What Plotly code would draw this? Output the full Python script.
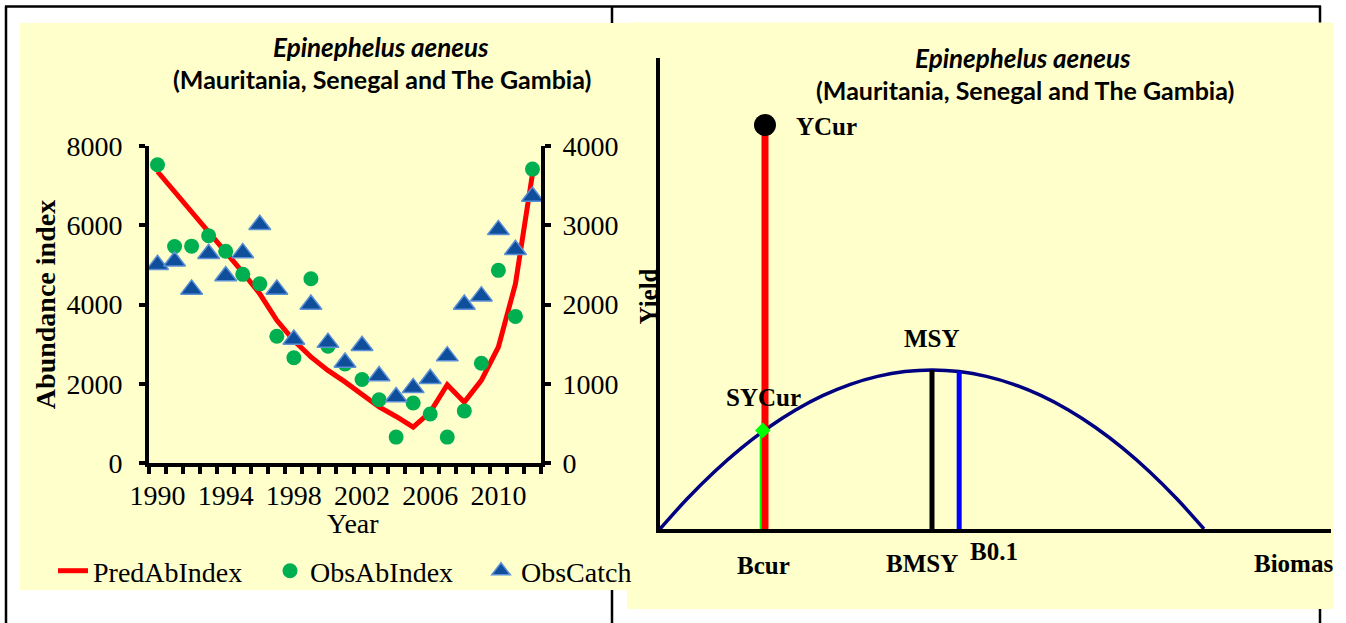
import plotly.graph_objects as go

# ---------------- data: left chart ----------------
years = list(range(1990, 2013))
pred_ab_index = [7350, 6850, 6340, 5860, 5320, 4810, 4270, 3600, 3090, 2680, 2340, 2050,
                 1750, 1420, 1180, 910, 1290, 1980, 1540, 2090, 2930, 4520, 7290]
obs_ab_index = [7520, 5460, 5470, 5730, 5340, 4760, 4520, 3200, 2660, 4650, 2950, 2500,
                2110, 1600, 660, 1520, 1240, 660, 1320, 2520, 4860, 3700, 7410]
obs_catch = [2500, 2545, 2190, 2640, 2360, 2650, 3005, 2190, 1560, 2000, 1520, 1270,
             1480, 1100, 835, 950, 1065, 1350, 2000, 2105, 2940, 2690, 3360]
year_ticks = [1990, 1994, 1998, 2002, 2006, 2010]
ab_ticks = [0, 2000, 4000, 6000, 8000]
catch_ticks = [0, 1000, 2000, 3000, 4000]

# ---------------- data: right chart ----------------
biomass = [0.00, 0.05, 0.10, 0.15, 0.20, 0.25, 0.30, 0.35, 0.40, 0.45, 0.50,
           0.55, 0.60, 0.65, 0.70, 0.75, 0.80, 0.85, 0.90, 0.95, 1.00]
yield_curve = [0.00, 0.19, 0.36, 0.51, 0.64, 0.75, 0.84, 0.91, 0.96, 0.99, 1.00,
               0.99, 0.96, 0.91, 0.84, 0.75, 0.64, 0.51, 0.36, 0.19, 0.00]
b_cur = 0.193
b_cur_sy = 0.185
y_cur = 2.54
sy_cur = 0.62
b_msy = 0.50
msy = 1.00
b_01 = 0.55
y_01 = 0.99

W, H = 1333, 623
def px(x):
    return x / W
def py(y):
    return 1 - y / H

SERIF = "Liberation Serif"
SANS = "Lato"
BG = "#FFFFCC"

# category boundaries for the year axis tick marks
year_bounds = [y - 0.5 for y in years] + [years[-1] + 0.5]

fig = go.Figure()

# left chart traces
fig.add_trace(go.Scatter(x=years, y=pred_ab_index, mode="lines", name="PredAbIndex",
                         line=dict(color="#FF0000", width=5), xaxis="x", yaxis="y",
                         legend="legend"))
fig.add_trace(go.Scatter(x=years, y=obs_ab_index, mode="markers", name="ObsAbIndex",
                         marker=dict(color="#00B050", size=15, symbol="circle"),
                         xaxis="x", yaxis="y", legend="legend2"))
fig.add_trace(go.Scatter(x=years, y=obs_catch, mode="markers", name="ObsCatch",
                         marker=dict(color="#0F4E9A", size=19, symbol="triangle-up",
                                     line=dict(color="#5B8FD6", width=1.5)),
                         xaxis="x", yaxis="y2", legend="legend3"))

# right chart traces
fig.add_trace(go.Scatter(x=biomass, y=yield_curve, mode="lines", line_shape="spline",
                         line=dict(color="#000080", width=3.5), xaxis="x3", yaxis="y3",
                         showlegend=False))
fig.add_trace(go.Scatter(x=[b_cur_sy, b_cur_sy], y=[0, sy_cur], mode="lines",
                         line=dict(color="#00FF00", width=2), xaxis="x3", yaxis="y3",
                         showlegend=False))
fig.add_trace(go.Scatter(x=[b_cur, b_cur], y=[0, y_cur], mode="lines",
                         line=dict(color="#FF0000", width=7), xaxis="x3", yaxis="y3",
                         showlegend=False))
fig.add_trace(go.Scatter(x=[b_cur - 0.004], y=[sy_cur], mode="markers",
                         marker=dict(color="#00FF00", size=12, symbol="diamond"),
                         xaxis="x3", yaxis="y3", showlegend=False))
fig.add_trace(go.Scatter(x=[b_msy, b_msy], y=[0, msy], mode="lines",
                         line=dict(color="#000000", width=5), xaxis="x3", yaxis="y3",
                         showlegend=False))
fig.add_trace(go.Scatter(x=[b_01, b_01], y=[0, y_01], mode="lines",
                         line=dict(color="#0000FF", width=5), xaxis="x3", yaxis="y3",
                         showlegend=False))
fig.add_trace(go.Scatter(x=[b_cur], y=[y_cur], mode="markers",
                         marker=dict(color="#000000", size=22), xaxis="x3", yaxis="y3",
                         showlegend=False))

shapes = [
    dict(type="line", xref="paper", yref="paper", x0=px(5), x1=px(1321), y0=py(6.5), y1=py(6.5),
         line=dict(color="black", width=2.5), layer="below"),
    dict(type="line", xref="paper", yref="paper", x0=px(6), x1=px(6), y0=py(6), y1=py(623),
         line=dict(color="black", width=2.5), layer="below"),
    dict(type="line", xref="paper", yref="paper", x0=px(612), x1=px(612), y0=py(6), y1=py(623),
         line=dict(color="black", width=2.5), layer="below"),
    dict(type="line", xref="paper", yref="paper", x0=px(1320), x1=px(1320), y0=py(6), y1=py(623),
         line=dict(color="black", width=2.5), layer="below"),
    dict(type="rect", xref="paper", yref="paper", x0=px(20), x1=px(627), y0=py(590), y1=py(23),
         fillcolor=BG, line=dict(width=0), layer="below"),
    dict(type="rect", xref="paper", yref="paper", x0=px(627), x1=px(1333), y0=py(609), y1=py(22.5),
         fillcolor=BG, line=dict(width=0), layer="below"),
]

def ann(text, x, y, size=24, family=SERIF, xanchor="center", textangle=0, bold=True, italic=False):
    return dict(text=text, x=px(x), y=py(y), xref="paper", yref="paper", showarrow=False,
                xanchor=xanchor, yanchor="middle", textangle=textangle,
                font=dict(family=family, size=size, color="black",
                          weight="bold" if bold else "normal",
                          style="italic" if italic else "normal"))

annotations = [
    ann("Epinephelus aeneus", 381, 47, size=26, family=SANS, italic=True),
    ann("(Mauritania, Senegal and The Gambia)", 382, 79, size=25, family=SANS),
    ann("Epinephelus aeneus", 1023, 57.5, size=26, family=SANS, italic=True),
    ann("(Mauritania, Senegal and The Gambia)", 1025, 90.5, size=25, family=SANS),
    ann("Year", 353, 523, size=28, bold=False),
    ann("YCur", 794, 126, size=25, xanchor="left"),
    ann("SYCur", 763.5, 397, size=25),
    ann("MSY", 932, 339, size=25),
    ann("BMSY", 922.5, 563, size=25),
    ann("B0.1", 993.5, 551, size=25),
    ann("Bcur", 763.5, 565, size=25),
    ann("Biomass", 1252, 563, size=25, xanchor="left"),
    ann("Yield", 647.5, 297, size=25, textangle=-90),
]

tickfont = dict(family=SERIF, size=28, color="black")
legfont = dict(family=SERIF, size=28, color="black")

fig.update_layout(
    template="none",
    width=W, height=H,
    margin=dict(l=0, r=0, t=0, b=0, autoexpand=False),
    paper_bgcolor="white",
    plot_bgcolor="rgba(0,0,0,0)",
    shapes=shapes,
    annotations=annotations,
    xaxis=dict(domain=[px(149), px(541)], range=[1989.5, 2012.5], anchor="y",
               automargin=False,
               tickmode="array", tickvals=year_ticks, ticks="", showgrid=False, zeroline=False,
               showline=True, linecolor="black", linewidth=4,
               tickfont=tickfont, ticklabelstandoff=4,
               minor=dict(tickmode="array", tickvals=year_bounds, ticks="outside", ticklen=7,
                          tickwidth=3.5, tickcolor="black", showgrid=False)),
    yaxis=dict(domain=[py(463.3), py(145.7)], range=[0, 8000], anchor="x",
               automargin=False,
               tickvals=ab_ticks, ticks="outside", ticklen=6, tickwidth=3.5,
               tickcolor="black", showgrid=False, zeroline=False,
               showline=True, linecolor="black", linewidth=4,
               tickfont=tickfont, ticklabelstandoff=11,
               title=dict(text="Abundance index",
                          font=dict(family=SERIF, size=28, color="black", weight="bold"),
                          standoff=4)),
    yaxis2=dict(domain=[py(463.3), py(145.7)], range=[0, 4000], anchor="x",
                automargin=False,
                overlaying="y", side="right",
                tickvals=catch_ticks, ticks="outside", ticklen=6, tickwidth=3.5,
                tickcolor="black", showgrid=False, zeroline=False,
                showline=True, linecolor="black", linewidth=4,
                tickfont=tickfont, ticklabelstandoff=6),
    xaxis3=dict(domain=[px(660), px(1331)], range=[0, 1.2335], anchor="y3",
                automargin=False,
                showticklabels=False, ticks="", showgrid=False, zeroline=False,
                showline=True, linecolor="black", linewidth=4),
    yaxis3=dict(domain=[py(529), py(57.5)], range=[0, 2.965], anchor="x3",
                automargin=False,
                showticklabels=False, ticks="", showgrid=False, zeroline=False,
                showline=True, linecolor="black", linewidth=4),
    legend=dict(x=px(53), y=py(571), xanchor="left", yanchor="middle",
                bgcolor="rgba(0,0,0,0)", font=legfont, orientation="h"),
    legend2=dict(x=px(270), y=py(571), xanchor="left", yanchor="middle",
                 bgcolor="rgba(0,0,0,0)", font=legfont, orientation="h"),
    legend3=dict(x=px(481), y=py(571), xanchor="left", yanchor="middle",
                 bgcolor="rgba(0,0,0,0)", font=legfont, orientation="h"),
    showlegend=True,
    hovermode=False,
)

fig.write_html("out.html", config={"displayModeBar": False},
               post_script="document.body.style.margin='0';")
